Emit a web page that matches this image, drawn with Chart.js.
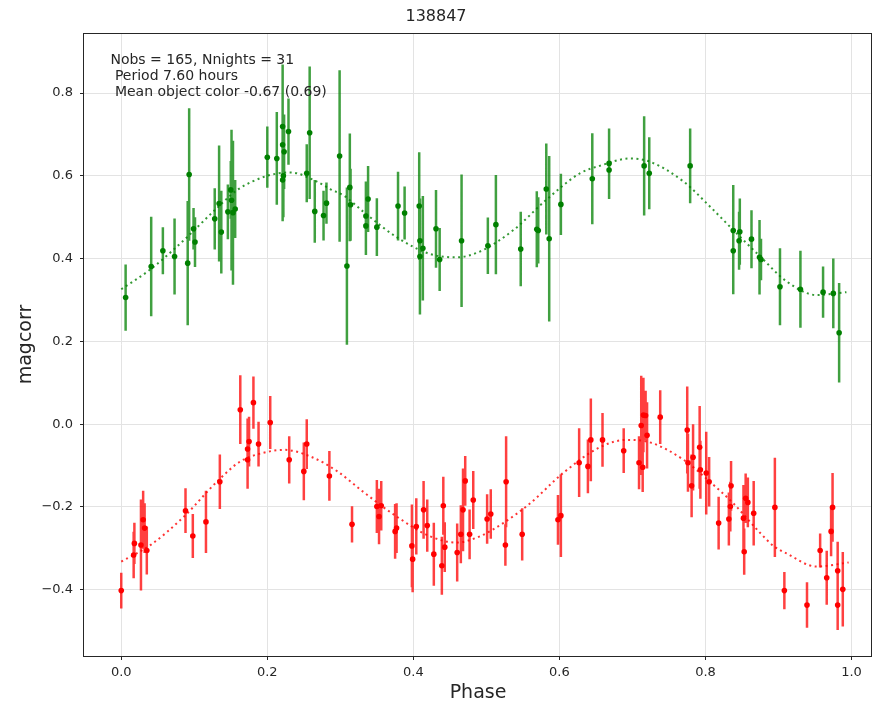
<!DOCTYPE html>
<html>
<head>
<meta charset="utf-8">
<script src="https://cdn.jsdelivr.net/npm/chart.js@4.4.1/dist/chart.umd.min.js"></script>
<style>
  html, body { margin: 0; padding: 0; background: #ffffff; overflow: hidden; }
  #wrap { width: 873px; height: 703px; }
  canvas { display: block; }
</style>
</head>
<body>
<div id="wrap"><canvas id="c" width="873" height="703"></canvas></div>
<script>
// ---------- data ----------
const chartTitle = "138847";
const xLabel = "Phase";
const yLabel = "magcorr";
const annotLines = ["Nobs = 165, Nnights = 31", " Period 7.60 hours", " Mean object color -0.67 (0.69)"];

const phaseTicks = [0.0, 0.2, 0.4, 0.6, 0.8, 1.0];
const magTicks = [-0.4, -0.2, 0.0, 0.2, 0.4, 0.6, 0.8];

// green band observations
const greenPhase = [0.006,0.041,0.057,0.073,0.091,0.093,0.099,0.101,0.128,0.134,0.137,0.146,0.150,0.151,0.153,0.156,
  0.200,0.213,0.221,0.229,0.221,0.223,0.222,0.221,0.258,0.254,0.265,0.277,0.281,0.299,0.309,0.314,0.313,
  0.335,0.335,0.338,0.350,0.379,0.388,0.408,0.409,0.409,0.413,0.431,0.436,0.466,0.502,0.513,0.547,0.569,
  0.571,0.582,0.586,0.602,0.645,0.668,0.668,0.716,0.723,0.779,0.838,0.838,0.847,0.846,0.863,0.874,0.876,
  0.902,0.930,0.961,0.975,0.983];
const greenMag = [0.306,0.381,0.419,0.405,0.389,0.603,0.472,0.440,0.496,0.533,0.464,0.513,0.566,0.541,0.511,0.520,
  0.645,0.642,0.719,0.707,0.675,0.658,0.600,0.590,0.704,0.606,0.514,0.504,0.534,0.648,0.382,0.530,0.572,
  0.503,0.479,0.544,0.476,0.527,0.510,0.527,0.443,0.405,0.425,0.472,0.398,0.443,0.431,0.482,0.423,0.471,
  0.468,0.568,0.448,0.531,0.593,0.630,0.614,0.624,0.606,0.624,0.468,0.419,0.465,0.443,0.447,0.403,0.398,
  0.332,0.326,0.319,0.316,0.221];
const greenErr = [0.080,0.120,0.057,0.092,0.150,0.160,0.050,0.060,0.074,0.140,0.100,0.066,0.070,0.170,0.174,0.070,
  0.074,0.112,0.150,0.080,0.100,0.090,0.100,0.100,0.160,0.070,0.076,0.060,0.050,0.207,0.190,0.087,0.130,
  0.083,0.070,0.080,0.070,0.083,0.064,0.130,0.100,0.140,0.126,0.094,0.076,0.160,0.068,0.120,0.090,0.092,
  0.080,0.110,0.200,0.074,0.110,0.084,0.070,0.120,0.087,0.090,0.110,0.105,0.080,0.070,0.070,0.090,0.050,
  0.093,0.093,0.062,0.084,0.120];

// red band observations
const redPhase = [0.000,0.017,0.018,0.027,0.030,0.032,0.035,0.088,0.098,0.116,0.135,0.163,0.173,0.175,0.173,0.181,
  0.188,0.204,0.230,0.250,0.254,0.285,0.316,0.350,0.353,0.356,0.375,0.377,0.398,0.399,0.404,0.414,0.419,
  0.428,0.439,0.441,0.443,0.460,0.465,0.468,0.471,0.477,0.482,0.501,0.506,0.527,0.526,0.549,0.598,0.602,
  0.627,0.639,0.643,0.659,0.688,0.709,0.712,0.715,0.714,0.718,0.720,0.738,0.775,0.776,0.781,0.783,0.792,
  0.793,0.801,0.805,0.818,0.832,0.835,0.834,0.852,0.853,0.855,0.858,0.866,0.895,0.908,0.939,0.957,0.966,
  0.972,0.974,0.981,0.981,0.988];
const redMag = [-0.402,-0.316,-0.288,-0.292,-0.231,-0.251,-0.305,-0.209,-0.270,-0.236,-0.139,0.035,-0.060,-0.042,-0.086,0.052,
  -0.048,0.004,-0.086,-0.114,-0.048,-0.125,-0.242,-0.199,-0.223,-0.197,-0.259,-0.251,-0.294,-0.326,-0.247,-0.207,-0.245,
  -0.314,-0.342,-0.197,-0.297,-0.310,-0.266,-0.207,-0.137,-0.266,-0.183,-0.229,-0.217,-0.139,-0.292,-0.266,-0.231,-0.221,
  -0.093,-0.102,-0.038,-0.038,-0.064,-0.093,-0.003,0.022,-0.104,0.021,-0.027,0.017,-0.014,-0.093,-0.149,-0.080,-0.056,
  -0.110,-0.118,-0.139,-0.239,-0.229,-0.149,-0.199,-0.227,-0.308,-0.179,-0.189,-0.215,-0.201,-0.402,-0.437,-0.305,-0.371,
  -0.259,-0.201,-0.354,-0.437,-0.399];
const redErr = [0.043,0.056,0.050,0.110,0.070,0.060,0.058,0.054,0.053,0.075,0.066,0.083,0.074,0.060,0.070,0.063,
  0.054,0.064,0.057,0.070,0.060,0.060,0.044,0.064,0.067,0.060,0.066,0.060,0.100,0.080,0.068,0.070,0.063,
  0.076,0.070,0.070,0.060,0.070,0.070,0.100,0.060,0.060,0.070,0.060,0.060,0.110,0.050,0.063,0.060,0.100,
  0.083,0.065,0.100,0.065,0.054,0.064,0.120,0.090,0.060,0.060,0.080,0.065,0.105,0.070,0.076,0.080,0.100,
  0.070,0.100,0.060,0.064,0.064,0.060,0.060,0.080,0.056,0.060,0.060,0.078,0.120,0.045,0.055,0.041,0.065,
  0.060,0.083,0.070,0.060,0.090];

// fitted curves
const greenFitPhase = [0.000,0.040,0.086,0.131,0.159,0.200,0.232,0.268,0.286,0.305,0.331,0.377,0.423,0.459,0.491,0.537,0.582,0.628,0.655,0.697,0.724,0.770,0.806,0.838,0.875,0.911,0.952,0.993];
const greenFitMag = [0.326,0.374,0.445,0.522,0.566,0.600,0.608,0.586,0.568,0.552,0.514,0.452,0.411,0.403,0.417,0.469,0.542,0.606,0.624,0.642,0.634,0.586,0.526,0.469,0.405,0.345,0.312,0.319];
const redFitPhase = [0.000,0.040,0.086,0.131,0.163,0.195,0.223,0.259,0.296,0.331,0.377,0.423,0.459,0.491,0.523,0.560,0.605,0.655,0.692,0.724,0.770,0.806,0.838,0.875,0.893,0.911,0.952,0.996];
const redFitMag = [-0.332,-0.292,-0.223,-0.139,-0.090,-0.069,-0.062,-0.078,-0.114,-0.163,-0.223,-0.271,-0.286,-0.271,-0.239,-0.191,-0.118,-0.056,-0.038,-0.044,-0.086,-0.139,-0.191,-0.263,-0.294,-0.312,-0.344,-0.334];

// ---------- helpers ----------
const FONT = "'DejaVu Sans', 'Liberation Sans', sans-serif";
const INK = '#262626';
const ANNOT_PHASE = -0.0148, ANNOT_MAG = 0.880;

function pts(xs, ys) { return xs.map((x, i) => ({ x: x, y: ys[i] })); }
function bars(xs, ys, es) {
  const out = [];
  xs.forEach((x, i) => {
    out.push({ x: x, y: ys[i] - es[i] }, { x: x, y: ys[i] + es[i] }, { x: x, y: null });
  });
  return out;
}
function fmt(v) {
  const s = Math.abs(v) < 1e-9 ? '0.0' : v.toFixed(1);
  return s.replace('-', '\u2212');
}

const framePlugin = {
  id: 'frame',
  afterDatasetsDraw(chart) {
    const { ctx, chartArea: a, scales } = chart;
    ctx.save();
    ctx.strokeStyle = INK;
    ctx.lineWidth = 1;
    ctx.strokeRect(Math.round(a.left) - 0.5, Math.round(a.top) + 0.5,
      Math.round(a.right - a.left), Math.round(a.bottom - a.top));
    ctx.fillStyle = INK;
    ctx.font = '14px ' + FONT;
    ctx.textBaseline = 'middle';
    ctx.textAlign = 'left';
    const x0 = scales.x.getPixelForValue(ANNOT_PHASE);
    const y0 = scales.y.getPixelForValue(ANNOT_MAG);
    annotLines.forEach((t, i) => ctx.fillText(t, x0, y0 + i * 16));
    ctx.restore();
  }
};

Chart.defaults.font.family = FONT;
Chart.defaults.color = INK;

new Chart(document.getElementById('c'), {
  type: 'scatter',
  data: {
    datasets: [
      { type: 'scatter', data: pts(greenPhase, greenMag), pointRadius: 2.8, pointHoverRadius: 2.8,
        pointBackgroundColor: '#008000', pointBorderWidth: 0, borderColor: '#008000' },
      { type: 'scatter', data: pts(redPhase, redMag), pointRadius: 2.8, pointHoverRadius: 2.8,
        pointBackgroundColor: '#ff0000', pointBorderWidth: 0, borderColor: '#ff0000' },
      { type: 'line', data: bars(greenPhase, greenMag, greenErr), borderColor: 'rgba(0,128,0,0.75)',
        borderWidth: 2.5, pointRadius: 0, spanGaps: false, fill: false, tension: 0 },
      { type: 'line', data: bars(redPhase, redMag, redErr), borderColor: 'rgba(255,0,0,0.75)',
        borderWidth: 2.5, pointRadius: 0, spanGaps: false, fill: false, tension: 0 },
      { type: 'line', data: pts(greenFitPhase, greenFitMag), borderColor: 'rgba(0,128,0,0.8)',
        borderWidth: 2, borderDash: [2, 3.5], pointRadius: 0, fill: false, cubicInterpolationMode: 'monotone' },
      { type: 'line', data: pts(redFitPhase, redFitMag), borderColor: 'rgba(255,0,0,0.8)',
        borderWidth: 2, borderDash: [2, 3.5], pointRadius: 0, fill: false, cubicInterpolationMode: 'monotone' }
    ]
  },
  options: {
    responsive: false,
    animation: false,
    events: [],
    layout: { autoPadding: false, padding: { top: 0, right: 1, bottom: 0, left: 0 } },
    plugins: {
      legend: { display: false },
      tooltip: { enabled: false },
      title: { display: true, text: chartTitle, color: INK,
        font: { size: 16, weight: 'normal', family: FONT }, padding: { top: 7, bottom: 6.8 } }
    },
    scales: {
      x: {
        type: 'linear', min: -0.051, max: 1.028,
        afterBuildTicks: s => { s.ticks = phaseTicks.map(v => ({ value: v })); },
        afterFit: s => { s.height = 47; },
        ticks: { callback: v => fmt(v), font: { size: 13, family: FONT }, color: INK, padding: 5,
          maxRotation: 0, autoSkip: false },
        grid: { color: '#e3e3e3', lineWidth: 1, tickColor: INK, tickLength: 4, drawTicks: true },
        border: { display: false },
        title: { display: true, text: xLabel, color: INK, font: { size: 19, family: FONT, lineHeight: 1 },
          padding: { top: 0, bottom: 0 } }
      },
      y: {
        type: 'linear', min: -0.560, max: 0.945,
        afterBuildTicks: s => { s.ticks = magTicks.map(v => ({ value: v })); },
        afterFit: s => { s.width = 84; },
        ticks: { callback: v => fmt(v), font: { size: 13, family: FONT }, color: INK, padding: 7,
          autoSkip: false },
        grid: { color: '#e3e3e3', lineWidth: 1, tickColor: INK, tickLength: 4, drawTicks: true },
        border: { display: false },
        title: { display: true, text: yLabel, color: INK, font: { size: 19, family: FONT, lineHeight: 1 },
          padding: { top: 17, bottom: 0 } }
      }
    }
  },
  plugins: [framePlugin]
});
</script>
</body>
</html>
